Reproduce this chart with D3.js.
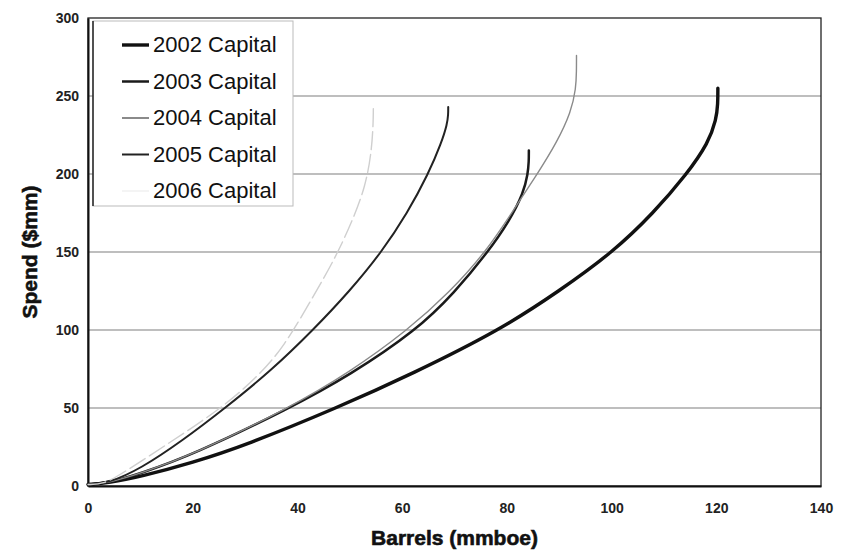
<!DOCTYPE html>
<html>
<head>
<meta charset="utf-8">
<script src="https://cdn.jsdelivr.net/npm/d3@7"></script>
<style>
  body { margin: 0; background: #fff; }
  svg { display: block; }
</style>
</head>
<body>
<div id="chart"></div>
<script>
// series: [barrels, spend]
var capital2002 = [[0,1],[4,2],[10,6],[20,15],[30,26],[47.5,50],[62,72],[78.7,100],[90,125],[100.3,150],[108,175],[114.4,200],[118.5,220],[120,235],[120.3,245],[120.3,255]];
var capital2003 = [[0,1],[4,2],[10,8],[20,20],[38.6,50],[50,71],[62.8,100],[70,124],[76.4,150],[80.5,170],[83.2,188],[84,200],[84.2,208],[84.2,215]];
var capital2004 = [[0,1],[4,2],[10,8],[20,20],[38.4,50],[50,73],[61.1,100],[69,124],[76,150],[81.5,178],[85.8,200],[89.5,220],[92.3,240],[93.2,255],[93.3,266],[93.3,276]];
var capital2005 = [[0,1],[4,2],[10,11],[18,29],[26.2,50],[35,74],[43,100],[50,125],[56.1,150],[61,175],[65,200],[67.5,220],[68.6,232],[68.8,238],[68.8,243]];
var capital2006 = [[0,1],[3,1],[7,9],[15.7,28],[26,51],[33,72],[37.5,90],[41.9,115],[45,133],[47.6,149],[50.5,170],[53,192],[54.2,215],[54.5,235],[54.5,244]];

var seriesNames = ["2002 Capital","2003 Capital","2004 Capital","2005 Capital","2006 Capital"];
var seriesData = [capital2002, capital2003, capital2004, capital2005, capital2006];
var seriesColor = ["#111","#1a1a1a","#8a8a8a","#222","#cfcfcf"];
var seriesWidth = [3.4, 2.5, 1.4, 2, 1.4];

var xTicks = [0,20,40,60,80,100,120,140];
var yTicks = [0,50,100,150,200,250,300];

var W = 845, H = 560;
var pLeft = 88, pRight = 821, pTop = 18, pBottom = 486;

var svg = d3.select("#chart").append("svg")
  .attr("width", W)
  .attr("height", H);

var x = d3.scaleLinear().domain([0,140]).range([pLeft, pRight]);
var y = d3.scaleLinear().domain([0,300]).range([pBottom, pTop]);

/* gridlines */
svg.selectAll("line.grid")
  .data(yTicks.slice(1, -1))
  .enter()
  .append("line")
  .attr("class","grid")
  .attr("x1", pLeft)
  .attr("x2", pRight)
  .attr("y1", function(d){return y(d)})
  .attr("y2", function(d){return y(d)})
  .attr("stroke","#a8a8a8")
  .attr("stroke-width",1.3);

/* plot frame */
svg.append("rect")
  .attr("x", pLeft).attr("y", pTop)
  .attr("width", pRight-pLeft).attr("height", pBottom-pTop)
  .attr("fill","none")
  .attr("stroke","#222")
  .attr("stroke-width",1.3);

/* axes */
var xAxis = svg.append("g")
  .attr("transform","translate(0,"+pBottom+")")
  .call(d3.axisBottom(x).tickValues(xTicks).tickSize(0).tickPadding(17));
var yAxis = svg.append("g")
  .attr("transform","translate("+pLeft+",0)")
  .call(d3.axisLeft(y).tickValues(yTicks).tickSize(0).tickPadding(9));

[xAxis, yAxis].forEach(function(a){
  a.select(".domain").attr("stroke","#111").attr("stroke-width",2);
  a.selectAll("text")
    .attr("font-family","'Liberation Sans Narrow', 'Liberation Sans', Arial, sans-serif")
    .attr("font-weight","bold")
    .attr("font-size",14)
    .attr("fill","#222");
});

/* lines */
var line = d3.line()
  .x(function(d){return x(d[0])})
  .y(function(d){return y(d[1])})
  .curve(d3.curveBasis);

svg.selectAll("path.series")
  .data(seriesData)
  .enter()
  .append("path")
  .attr("class","series")
  .attr("d", line)
  .attr("fill","none")
  .attr("stroke", function(d,i){return seriesColor[i]})
  .attr("stroke-width", function(d,i){return seriesWidth[i]})
  .attr("stroke-dasharray", function(d,i){return i==4 ? "18,5" : null})
  .attr("stroke-linecap","round");

/* legend */
var lg = svg.append("g").attr("transform","translate(93,21)");
lg.append("rect")
  .attr("width",200).attr("height",185)
  .attr("fill","#fff")
  .attr("stroke","#bbb")
  .attr("stroke-width",1);
lg.append("line")
  .attr("x1",0).attr("x2",0).attr("y1",0).attr("y2",185)
  .attr("stroke","#222").attr("stroke-width",1.5);

var items = lg.selectAll("g.item")
  .data(seriesNames)
  .enter()
  .append("g")
  .attr("class","item")
  .attr("transform", function(d,i){return "translate(0,"+(24+i*36.5)+")"});

items.append("line")
  .attr("x1",29).attr("x2",56)
  .attr("y1",0).attr("y2",0)
  .attr("stroke", function(d,i){return i==4 ? "#f4f4f4" : seriesColor[i]})
  .attr("stroke-width", function(d,i){return Math.max(2, seriesWidth[i])});

items.append("text")
  .attr("x",60)
  .attr("y",7)
  .text(function(d){return d})
  .attr("font-family","'Liberation Sans', Arial, sans-serif")
  .attr("font-size",22)
  .attr("fill","#111");

/* axis titles */
svg.append("text")
  .attr("x",(pLeft+pRight)/2)
  .attr("y",545)
  .attr("text-anchor","middle")
  .text("Barrels (mmboe)")
  .attr("font-family","'Liberation Sans', Arial, sans-serif")
  .attr("font-weight","bold")
  .attr("font-size",21)
  .attr("stroke","#111")
  .attr("stroke-width",0.6)
  .attr("fill","#111");

svg.append("text")
  .attr("transform","translate(37,"+((pTop+pBottom)/2)+") rotate(-90)")
  .attr("text-anchor","middle")
  .text("Spend ($mm)")
  .attr("font-family","'Liberation Sans', Arial, sans-serif")
  .attr("font-weight","bold")
  .attr("font-size",21)
  .attr("stroke","#111")
  .attr("stroke-width",0.6)
  .attr("fill","#111");
</script>
</body>
</html>
